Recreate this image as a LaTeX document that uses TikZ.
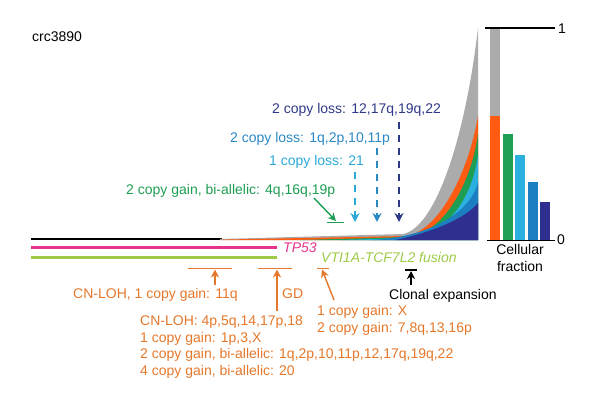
\documentclass[tikz,border=0pt]{standalone}
\usepackage{fontspec}
\setmainfont{Liberation Sans}
\usepackage{xcolor}
\usetikzlibrary{arrows.meta,positioning}
\definecolor{fishgrey}{HTML}{ABABAB}
\definecolor{fishorange}{HTML}{FF5B12}
\definecolor{fishgreen}{HTML}{1E9E52}
\definecolor{fishcyan}{HTML}{2BB0E0}
\definecolor{fishblue}{HTML}{1B7FC2}
\definecolor{fishnavy}{HTML}{2E2F8E}
\definecolor{tpmagenta}{HTML}{E6338C}
\definecolor{fusiongreen}{HTML}{9DCB45}
\definecolor{cnorange}{HTML}{E5772A}
\definecolor{losscyan}{HTML}{2AA9D9}
\definecolor{lossblue}{HTML}{2A88C2}
\definecolor{lossnavy}{HTML}{2E3A87}

\begin{document}
\begin{tikzpicture}[
    x=1bp, y=-1bp,
    lbl/.style={anchor=base west, inner sep=0pt,
                font=\fontsize{14bp}{16.7bp}\selectfont},
    trackline/.style={line width=2.6bp},
    droparrow/.style={line width=1.4bp, dash pattern=on 7bp off 6bp,
                      -{Stealth[length=9bp,width=9bp,inset=3bp]}},
    tickarrow/.style={line width=1.4bp,
                      -{Stealth[length=8bp,width=8bp,inset=2.5bp]}},
    tickbar/.style={line width=1.5bp}
]
    \useasboundingbox (0,0) rectangle (592,393);

    \node[lbl] (sample) at (32,41.5) {crc3890};

    % tracks
    \draw[line width=1.5bp] (31,239) -- (222,239);
    \draw[trackline, tpmagenta] (31,247.5) -- (277,247.5);
    \draw[trackline, fusiongreen, line width=3bp] (31,257) -- (277,257);
    \node[lbl, tpmagenta, font=\fontsize{14bp}{16.7bp}\selectfont\itshape]
        (tp53) at (283,252) {TP53};
    \node[lbl, fusiongreen, font=\fontsize{14bp}{16.7bp}\selectfont\itshape]
        (fusion) at (321,262) {VTI1A-TCF7L2 fusion};

    % fish plot
    \fill[fishgrey] (220,239) -- (403,234) .. controls (435,228) and (465,140) .. (478,28)
        -- (478,240) -- (220,240) -- cycle;
    \fill[fishorange] (222,239.6) -- (406,236) .. controls (440,231) and (469,170) .. (478,116)
        -- (478,240) -- (222,240) -- cycle;
    \fill[fishgreen] (300,240) -- (409,237) .. controls (443,232.5) and (471,185) .. (478,134)
        -- (478,240) -- cycle;
    \fill[fishcyan] (340,240) -- (411,238) .. controls (446,234) and (472,200) .. (478,155)
        -- (478,240) -- cycle;
    \fill[fishblue] (370,240) .. controls (425,238) and (470,215) .. (478,182)
        -- (478,240) -- cycle;
    \fill[fishnavy] (395,240) .. controls (430,233) and (465,219) .. (478,203)
        -- (478,240) -- cycle;

    % cellular fraction
    \fill[fishgrey] (490,28) rectangle (500,116);
    \fill[fishorange] (490,116) rectangle (500,240);
    \fill[fishgreen] (502.5,134) rectangle (512.5,240);
    \fill[fishcyan] (515,155) rectangle (525,240);
    \fill[fishblue] (527.5,182) rectangle (537.5,240);
    \fill[fishnavy] (540,202) rectangle (550,240);
    \draw[line width=1.3bp] (485,28) -- (555,28);
    \draw[line width=1.3bp] (487,240.5) -- (555,240.5);
    \node[lbl] (one) at (558,33) {1};
    \node[lbl] (zero) at (557,244.5) {0};
    \node[lbl, anchor=north, align=center] (fraction) at (520,244) {Cellular\\fraction};

    % losses and gains above the tracks
    \node[lbl, lossnavy] (loss12) at (272,113) {2 copy loss: 12,17q,19q,22};
    \node[lbl, lossblue] (loss1q) at (230,142) {2 copy loss: 1q,2p,10,11p};
    \node[lbl, losscyan] (loss21) at (269,165) {1 copy loss: 21};
    \node[lbl, fishgreen] (gain4q) at (126,194) {2 copy gain, bi-allelic: 4q,16q,19p};

    \coordinate (navytop) at (399,122);
    \coordinate (navytip) at (399,222);
    \coordinate (bluetop) at (377,148);
    \coordinate (bluetip) at (377,222);
    \coordinate (cyantop) at (355,172);
    \coordinate (cyantip) at (355,222);
    \draw[droparrow, lossnavy] (navytop) -- (navytip);
    \draw[droparrow, lossblue] (bluetop) -- (bluetip);
    \draw[droparrow, losscyan] (cyantop) -- (cyantip);

    \coordinate (greentail) at (314,198);
    \coordinate (greentip) at (336,221);
    \draw[tickarrow, fishgreen] (greentail) -- (greentip);
    \draw[tickbar, fishgreen] (327,222.5) -- (344,222.5);

    % events below the tracks
    \node[lbl, cnorange] (loh11q) at (73,298) {CN-LOH, 1 copy gain: 11q};
    \node[lbl, cnorange] (gd) at (282,298.5) {GD};
    \node[lbl, cnorange, align=left, anchor=north west] (gdlist) at (140,315.5)
        {CN-LOH: 4p,5q,14,17p,18\\1 copy gain: 1p,3,X\\
         2 copy gain, bi-allelic: 1q,2p,10,11p,12,17q,19q,22\\
         4 copy gain, bi-allelic: 20};
    \node[lbl, cnorange, align=left, anchor=north west] (gainx) at (317,305.5)
        {1 copy gain: X\\2 copy gain: 7,8q,13,16p};
    \node[lbl] (clonal) at (389,299) {Clonal expansion};

    \draw[tickbar, cnorange] (188,268.5) -- (232,268.5);
    \draw[tickbar, cnorange] (258,268.5) -- (292,268.5);
    \draw[tickbar, cnorange] (317,268.5) -- (329,268.5);
    \draw[tickbar] (405,270) -- (417,270);
    \coordinate (lohtail) at (215,285);
    \coordinate (lohtip) at (215,269.5);
    \coordinate (gdtail) at (277,311);
    \coordinate (gdtip) at (277,269.5);
    \coordinate (xtail) at (334,300);
    \coordinate (xtip) at (322,269.5);
    \coordinate (clonaltail) at (411,285);
    \coordinate (clonaltip) at (411,271);
    \draw[tickarrow, cnorange] (lohtail) -- (lohtip);
    \draw[tickarrow, cnorange] (gdtail) -- (gdtip);
    \draw[tickarrow, cnorange] (xtail) -- (xtip);
    \draw[tickarrow] (clonaltail) -- (clonaltip);
\end{tikzpicture}
\end{document}
